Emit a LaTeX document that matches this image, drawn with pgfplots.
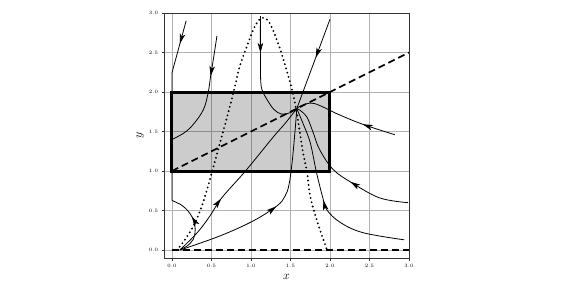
\documentclass[border=0pt]{standalone}
\usepackage{pgfplots}
\pgfplotsset{compat=1.18}
\usetikzlibrary{decorations.markings,arrows.meta}
\begin{document}
\begin{tikzpicture}[
  arr/.style={postaction={decorate}, decoration={markings, mark=at position #1 with {\arrow{Stealth[length=10pt,width=5.5pt,inset=2.5pt]}}}}]
\useasboundingbox (-164pt,-31pt) rectangle (403pt,258pt);
\begin{axis}[name=ax, at={(0,0)}, anchor=south west, scale only axis,
  width=245pt, height=245pt,
  xmin=-0.1, xmax=3, ymin=-0.1, ymax=3,
  xtick={0,0.5,...,3}, ytick={0,0.5,...,3},
  grid=major, grid style={black!30, line width=0.6pt},
  axis line style={black!80, line width=0.8pt},
  tick style={black!80, line width=0.6pt}, tick align=outside, tick pos=left,
  major tick length=2.5pt,
  ticklabel style={font=\fontsize{5}{6}\selectfont, /pgf/number format/fixed, /pgf/number format/fixed zerofill, /pgf/number format/precision=1},
  xlabel={$x$}, ylabel={$y$},
  label style={font=\fontsize{12}{14}\selectfont},
  xlabel style={yshift=0pt}, ylabel style={yshift=-2pt},
]
% invariant rectangle
\addplot[draw=black, line width=3pt, fill=black, fill opacity=0.2, line join=miter] coordinates {(0,1) (2,1) (2,2) (0,2)} -- cycle;
% nullclines
\addplot[black, line width=1.7pt, dash pattern=on 7pt off 4pt] coordinates {(0,0) (3,0)};
\addplot[black, line width=1.7pt, dash pattern=on 7pt off 4pt] coordinates {(0,1) (3,2.5)};
\addplot[black, line width=2.1pt, line cap=round, dash pattern=on 0pt off 4.4pt, smooth, tension=0.5] coordinates {
(0.063,0) (0.15,0.11) (0.27,0.30) (0.38,0.56) (0.48,0.89) (0.59,1.29) (0.70,1.69) (0.78,2.0) (0.86,2.33) (0.95,2.58) (1.03,2.79) (1.10,2.91) (1.16,2.94) (1.22,2.9) (1.285,2.77) (1.37,2.54) (1.45,2.28) (1.52,2.03) (1.58,1.74) (1.62,1.48) (1.66,1.23) (1.71,0.98) (1.75,0.68) (1.83,0.39) (1.90,0.18) (1.96,0.01)};
% streamlines
\addplot[black, line width=0.8pt, arr=0.13] coordinates {(0.18,2.9) (0,2.24) (0,0.63)};
\addplot[black, line width=0.8pt, arr=0.7, smooth, tension=0.6] coordinates {(0.105,0.01) (0.19,0.05) (0.27,0.135) (0.295,0.26) (0.27,0.39) (0.19,0.51) (0.105,0.58)};
\addplot[black, line width=0.8pt] coordinates {(0.105,0.58) (0,0.63)};
\addplot[black, line width=0.8pt, arr=0.34, smooth, tension=0.6] coordinates {(0.57,2.71) (0.53,2.45) (0.49,2.2) (0.46,2.0) (0.40,1.78) (0.27,1.59) (0.15,1.48) (0,1.40)};
\addplot[black, line width=0.8pt, arr=0.3, smooth, tension=0.6] coordinates {(1.12,2.96) (1.12,2.54) (1.125,2.12) (1.16,1.98) (1.2,1.91) (1.29,1.78) (1.39,1.72) (1.5,1.74) (1.58,1.79)};
\addplot[black, line width=0.8pt, arr=0.43] coordinates {(2.0,2.92) (1.58,1.79)};
\addplot[black, line width=0.8pt, arr=0.32, smooth, tension=0.6] coordinates {(2.82,1.46) (2.42,1.59) (2.1,1.72) (1.87,1.83) (1.75,1.86) (1.62,1.82) (1.58,1.79)};
\addplot[black, line width=0.8pt, arr=0.40, smooth, tension=0.6] coordinates {(2.99,0.6) (2.63,0.66) (2.28,0.85) (2.04,1.02) (1.87,1.27) (1.79,1.48) (1.71,1.68) (1.62,1.77) (1.58,1.79)};
\addplot[black, line width=0.8pt, arr=0.5, smooth, tension=0.6] coordinates {(2.94,0.13) (2.42,0.22) (2.13,0.35) (1.96,0.51) (1.91,0.66) (1.83,0.98) (1.75,1.36) (1.66,1.6) (1.58,1.79)};
\addplot[black, line width=0.8pt, arr=0.36, smooth, tension=0.6] coordinates {(0.1,0.0) (0.32,0.22) (0.48,0.43) (0.63,0.66) (0.93,1.0) (1.29,1.44) (1.43,1.6) (1.58,1.79)};
\addplot[black, line width=0.8pt, arr=0.51, smooth, tension=0.6] coordinates {(0.1,0.0) (0.61,0.18) (1.03,0.37) (1.33,0.56) (1.43,0.68) (1.48,0.82) (1.52,1.1) (1.56,1.53) (1.58,1.79)};
\end{axis}
\end{tikzpicture}
\end{document}
